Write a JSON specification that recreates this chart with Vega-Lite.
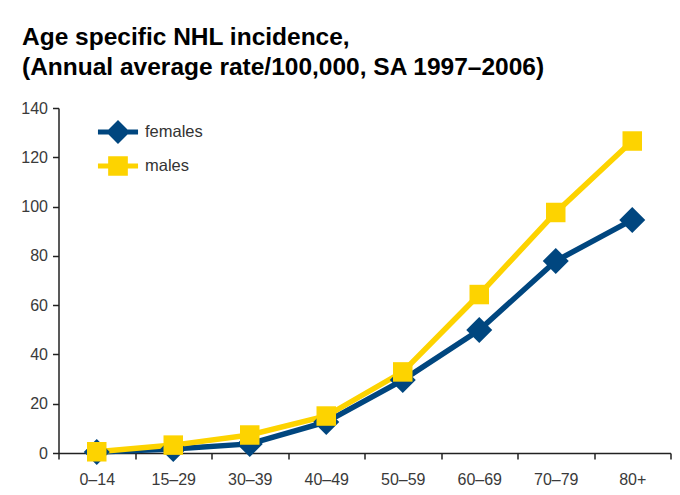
{
  "$schema": "https://vega.github.io/schema/vega-lite/v6.json",
  "width": 612,
  "height": 345,
  "autosize": {"type": "none"},
  "padding": {"left": 58.5, "top": 108, "right": 9.5, "bottom": 42},
  "background": "white",
  "title": {
    "text": ["Age specific NHL incidence,", "(Annual average rate/100,000, SA 1997–2006)"],
    "anchor": "start",
    "frame": "group",
    "dx": -36.5,
    "font": "Liberation Sans",
    "fontSize": 24.5,
    "fontWeight": "bold",
    "color": "#000000",
    "lineHeight": 30,
    "offset": 20
  },
  "config": {
    "view": {"stroke": null},
    "axis": {
      "labelFont": "Liberation Sans",
      "labelFontSize": 16,
      "labelColor": "#3a3a3a",
      "domainColor": "#222222",
      "domainWidth": 1.5,
      "tickColor": "#222222",
      "tickWidth": 1.5,
      "tickSize": 6,
      "grid": false,
      "title": null
    },
    "legend": {
      "orient": "none",
      "legendX": 47.5,
      "legendY": 12,
      "title": null,
      "padding": 0,
      "labelFont": "Liberation Sans",
      "labelFontSize": 16.5,
      "labelColor": "#333333",
      "labelOffset": 15,
      "rowPadding": 10,
      "symbolSize": 576,
      "symbolStrokeWidth": 0
    }
  },
  "data": {
    "values": [
      {"age": "0–14", "series": "females", "value": 0.4},
      {"age": "15–29", "series": "females", "value": 1.6},
      {"age": "30–39", "series": "females", "value": 3.7},
      {"age": "40–49", "series": "females", "value": 12.6},
      {"age": "50–59", "series": "females", "value": 29.6},
      {"age": "60–69", "series": "females", "value": 49.9},
      {"age": "70–79", "series": "females", "value": 77.9},
      {"age": "80+", "series": "females", "value": 94.6},
      {"age": "0–14", "series": "males", "value": 0.5},
      {"age": "15–29", "series": "males", "value": 3.2},
      {"age": "30–39", "series": "males", "value": 7.3},
      {"age": "40–49", "series": "males", "value": 15.0},
      {"age": "50–59", "series": "males", "value": 32.9},
      {"age": "60–69", "series": "males", "value": 64.3},
      {"age": "70–79", "series": "males", "value": 97.6},
      {"age": "80+", "series": "males", "value": 126.6}
    ]
  },
  "encoding": {
    "x": {
      "field": "age",
      "type": "ordinal",
      "sort": null,
      "bandPosition": 0.5,
      "scale": {"type": "band", "paddingInner": 0, "paddingOuter": 0},
      "axis": {"labelAngle": 0, "tickBand": "extent", "labelPadding": 12}
    },
    "y": {
      "field": "value",
      "type": "quantitative",
      "scale": {"domain": [0, 140], "nice": false},
      "axis": {"values": [0, 20, 40, 60, 80, 100, 120, 140], "labelPadding": 5}
    }
  },
  "layer": [
    {
      "mark": {"type": "line", "strokeWidth": 5.5},
      "encoding": {
        "color": {
          "field": "series",
          "type": "nominal",
          "scale": {"domain": ["females", "males"], "range": ["#00467f", "#fdd300"]},
          "legend": null
        }
      }
    },
    {
      "mark": {"type": "point", "filled": true, "opacity": 1, "size": 676},
      "encoding": {
        "color": {
          "field": "series",
          "type": "nominal",
          "scale": {"domain": ["females", "males"], "range": ["#00467f", "#fdd300"]},
          "legend": null
        },
        "shape": {
          "field": "series",
          "type": "nominal",
          "scale": {"domain": ["females", "males"], "range": ["M-1,0L0,-1L1,0L0,1Z", "M-0.75,-0.75L0.75,-0.75L0.75,0.75L-0.75,0.75Z"]},
          "legend": null
        }
      }
    },
    {
      "transform": [{"filter": "datum.value < 0"}],
      "mark": {"type": "point", "filled": true, "opacity": 1, "size": 576},
      "encoding": {
        "color": {
          "field": "series",
          "type": "nominal",
          "scale": {"domain": ["females", "males"], "range": ["#00467f", "#fdd300"]}
        },
        "shape": {
          "field": "series",
          "type": "nominal",
          "scale": {"domain": ["females", "males"], "range": [
            "M-1.67,-0.21L-0.79,-0.21L0,-1L0.79,-0.21L1.67,-0.21L1.67,0.21L0.79,0.21L0,1L-0.79,0.21L-1.67,0.21Z",
            "M-1.67,-0.21L-0.82,-0.21L-0.82,-0.82L0.82,-0.82L0.82,-0.21L1.67,-0.21L1.67,0.21L0.82,0.21L0.82,0.82L-0.82,0.82L-0.82,0.21L-1.67,0.21Z"
          ]}
        }
      }
    }
  ],
  "resolve": {"scale": {"color": "independent", "shape": "independent"}}
}
